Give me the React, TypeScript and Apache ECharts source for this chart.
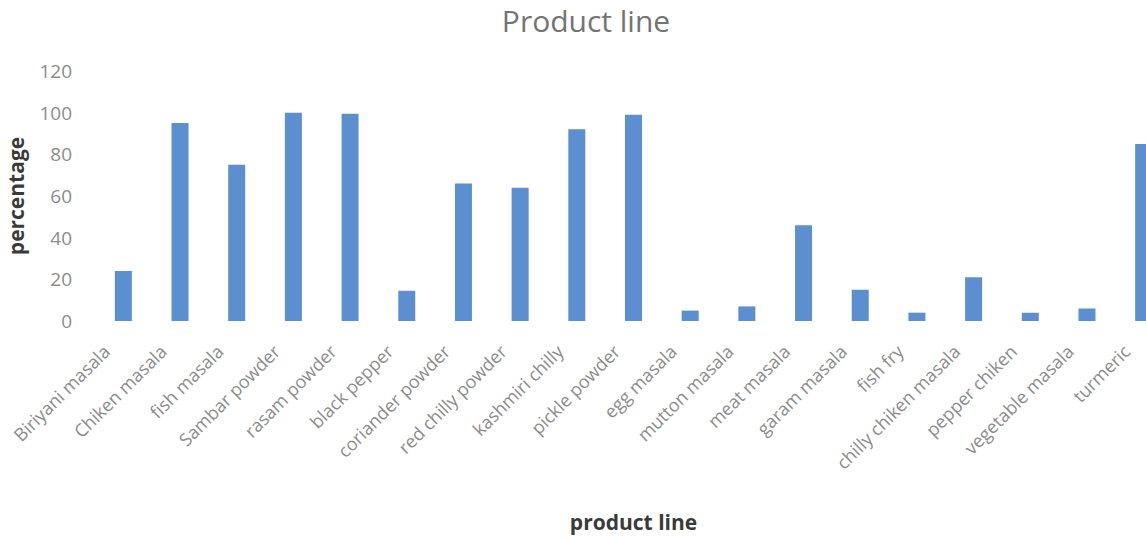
import React, { useEffect, useRef } from "react";
import * as echarts from "echarts";

const categories = [
  "Biriyani masala",
  "Chiken masala",
  "fish masala",
  "Sambar powder",
  "rasam powder",
  "black pepper",
  "coriander powder",
  "red chilly powder",
  "kashmiri chilly",
  "pickle powder",
  "egg masala",
  "mutton masala",
  "meat masala",
  "garam masala",
  "fish fry",
  "chilly chiken masala",
  "pepper chiken",
  "vegetable masala",
  "turmeric",
];

const percentages = [24, 95, 75, 100, 99.5, 14.5, 66, 64, 92, 99, 5, 7, 46, 15, 4, 21, 4, 6, 85];

const yTicks = { min: 0, max: 120, interval: 20 };

export default function App() {
  const ref = useRef<HTMLDivElement>(null);
  useEffect(() => {
    document.body.style.margin = "0";
    const chart = echarts.init(ref.current!, null, { renderer: "svg" });
    const font = "'Open Sans', 'Noto Sans', sans-serif";
    chart.setOption({
      animation: false,
      backgroundColor: "#ffffff",
      title: {
        text: "Product line",
        left: 581,
        textAlign: "center",
        top: 0,
        textStyle: { fontFamily: font, fontSize: 30, fontWeight: "normal", color: "#747474" },
      },
      grid: {
        left: 95,
        right: 8,
        top: 71,
        bottom: 218,
        containLabel: false,
        outerBoundsMode: "none",
      },
      xAxis: {
        type: "category",
        data: categories,
        name: "product line",
        nameLocation: "middle",
        nameGap: 190,
        nameTextStyle: { fontFamily: font, fontSize: 21, fontWeight: "bold", color: "#3a3a3a" },
        axisLine: { show: false },
        axisTick: { show: false },
        axisLabel: {
          rotate: 45,
          interval: 0,
          margin: 10,
          padding: [0, 24, 0, 0],
          fontFamily: font,
          fontSize: 18,
          color: "#8c8c8c",
        },
      },
      yAxis: {
        type: "value",
        min: yTicks.min,
        max: yTicks.max,
        interval: yTicks.interval,
        name: "percentage",
        nameLocation: "middle",
        nameGap: 69,
        nameTextStyle: { fontFamily: font, fontSize: 21, fontWeight: "bold", color: "#3a3a3a" },
        axisLine: { show: false },
        axisTick: { show: false },
        splitLine: { show: false },
        axisLabel: { margin: 23, fontFamily: font, fontSize: 19, color: "#8c8c8c" },
      },
      series: [
        {
          type: "bar",
          data: percentages,
          barWidth: 17,
          itemStyle: { color: "#5b8fcf" },
        },
      ],
    });
    return () => chart.dispose();
  }, []);
  return (
    <div style={{ width: 1146, height: 539, overflow: "hidden", position: "relative" }}>
      <div ref={ref} style={{ width: 1180, height: 539 }} />
    </div>
  );
}
